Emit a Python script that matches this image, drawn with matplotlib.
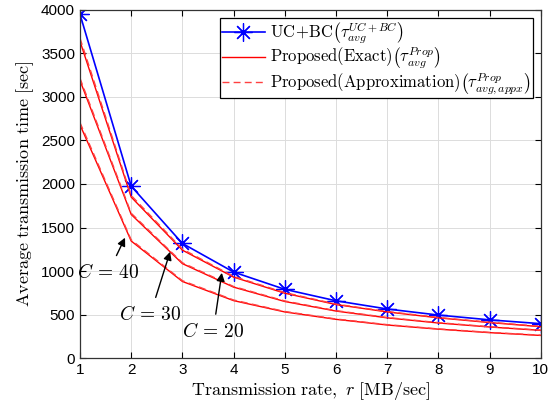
import numpy as np
import matplotlib
matplotlib.use("Agg")
import matplotlib.pyplot as plt

plt.rcParams["mathtext.fontset"] = "cm"
plt.rcParams["font.family"] = ["Liberation Sans", "DejaVu Sans"]

# data
rate = [1, 2, 3, 4, 5, 6, 7, 8, 9, 10]
ucbc = [3950, 1975, 1317, 988, 790, 658, 564, 494, 439, 395]

exact_c20 = [3640, 1850, 1240, 930, 745, 615, 530, 462, 408, 360]
exact_c30 = [3190, 1650, 1085, 815, 650, 540, 462, 403, 357, 318]
exact_c40 = [2680, 1345, 880, 660, 530, 445, 380, 332, 292, 260]

appx_c20 = [3675, 1868, 1252, 938, 752, 620, 535, 466, 412, 364]
appx_c30 = [3215, 1664, 1095, 822, 656, 545, 466, 407, 360, 321]
appx_c40 = [2705, 1358, 889, 667, 535, 449, 384, 335, 295, 263]

fig = plt.figure(figsize=(5.57, 4.13), dpi=100)
ax = fig.add_axes([0.1436, 0.133, 0.8274, 0.843])

ax.plot(rate, ucbc, color="blue", lw=1.2, marker=(8, 2, 0), ms=13, mew=0.9,
        label=r"$\mathrm{UC\!+\!BC}\left(\tau_{avg}^{UC+BC}\right)$")
first = True
for ex, ap in [(exact_c20, appx_c20), (exact_c30, appx_c30), (exact_c40, appx_c40)]:
    ax.plot(rate, ex, color="red", lw=1.0,
            label=r"$\mathrm{Proposed(Exact)}\left(\tau_{avg}^{Prop}\right)$" if first else None)
    ax.plot(rate, ap, color="#ff4040", lw=1.0, ls=(0, (5, 3)),
            label=r"$\mathrm{Proposed(Approximation)}\left(\tau_{avg,appx}^{Prop}\right)$" if first else None)
    first = False

ax.set_xlim(1, 10)
ax.set_ylim(0, 4000)
ax.set_xticks(range(1, 11))
ax.set_yticks(range(0, 4001, 500))
ax.tick_params(direction="in", top=True, right=True, labelsize=11, length=4)
ax.grid(True, color="#dcdcdc", lw=0.7)
for s in ax.spines.values():
    s.set_linewidth(0.9)
    s.set_color("#333333")

ax.set_xlabel(r"$\mathrm{Transmission\ rate,}\ r\ \mathrm{[MB/sec]}$", fontsize=13, labelpad=2)
ax.set_ylabel(r"$\mathrm{Average\ transmission\ time\ [sec]}$", fontsize=13, labelpad=4)

arrow = dict(arrowstyle="-|>", color="black", lw=1.0, mutation_scale=12, shrinkA=4, shrinkB=0)
ax.annotate(r"$C\,=\,40$", xy=(1.88, 1383), xytext=(1.55, 979), fontsize=14,
            ha="center", va="center", arrowprops=arrow)
ax.annotate(r"$C\,=\,30$", xy=(2.76, 1221), xytext=(2.37, 495), fontsize=14,
            ha="center", va="center", arrowprops=arrow)
ax.annotate(r"$C\,=\,20$", xy=(3.77, 979), xytext=(3.60, 300), fontsize=14,
            ha="center", va="center", arrowprops=arrow)

leg = ax.legend(loc="upper right", fontsize=12, fancybox=False, framealpha=1,
                edgecolor="black", handlelength=2.6, borderpad=0.1, labelspacing=0.0,
                borderaxespad=0.5, handletextpad=0.3)
leg.get_frame().set_linewidth(0.9)

fig.savefig("out.png", dpi=100)
